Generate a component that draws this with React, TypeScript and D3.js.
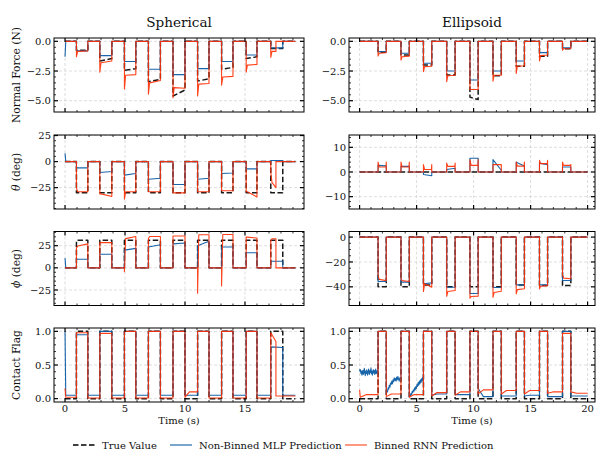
import React from 'react';
import * as d3 from 'd3';

const W = 599;
const H = 454;

// ---------------- Spherical ----------------
const sphStart = [0.95, 2.9, 4.95, 6.95, 9.0, 11.05, 13.05, 15.1, 17.15];
const sphEnd = [1.9, 3.9, 5.9, 7.95, 10.0, 12.0, 14.0, 16.0, 18.15];
const sphRnnEnd = [1.9, 3.9, 5.9, 7.95, 10.0, 12.0, 14.0, 16.0, 17.58];
const sphTEnd = 19.2;

const sphForceTrue = [-0.75, -1.65, -2.45, -3.4, -4.6, -3.35, -2.35, -1.45, -0.6];
const sphForceTrueEnd = [-0.75, -1.45, -2.3, -3.2, -4.1, -3.15, -2.2, -1.3, -0.6];
const sphForceMlp = [-0.8, -1.2, -1.7, -2.35, -2.8, -2.3, -1.7, -1.15, -0.55];
const sphForceRnnSpike = [-1.3, -2.6, -4.0, -4.45, -4.75, -4.6, -3.7, -2.6, -1.35];
const sphForceRnn = [-0.85, -1.8, -2.85, -3.5, -3.9, -3.6, -3.0, -2.0, -0.85];
const sphForceRnnEnd = [-0.8, -1.65, -2.8, -3.3, -3.95, -3.55, -2.95, -1.95, -0.85];

const sphThetaTrue = [-30, -30, -30, -30, -30, -30, -30, -30, -30];
const sphThetaMlp = [-6, -10.5, -13, -17, -22, -17, -11.5, -7, 1];
const sphThetaMlpEnd = [-6, -9.5, -11.5, -16, -22, -16, -11, -7, 1];
const sphThetaRnnSpike = [-25, -31, -36, -29, -30, -29, -28, -29, -10];
const sphThetaRnn = [-29, -31, -29, -29, -30, -29, -28, -29, -20];
const sphThetaRnnEnd = [-29, -33.5, -29, -29, -30, -29, -28, -34, -25];

const sphPhiTrue = [31, 31, 31, 31, 31, 31, 31, 31, 31];
const sphPhiMlp = [9.7, 15.3, 20, 23.5, 27, 25, 23.5, 17, 7.5];
const sphPhiMlpEnd = [9.7, 15.3, 22, 26, 28, 30, 23.5, 17, 7.5];
const sphPhiRnnSpike = [22, 28.4, -4.5, 33, 36, -28.7, -20.5, 34.7, 30];
const sphPhiRnn = [24.6, 28.4, 33, 35.4, 36, 37.3, 37.7, 34.7, 32.8];
const sphPhiRnnEnd = [27, 28.4, 35.4, 35.4, 36, 37.3, 37.7, 33.6, 32.8];

const sphFlagTrue = [1, 1, 1, 1, 1, 1, 1, 1, 1];
const sphFlagMlp = [0.95, 1, 1, 1, 1, 1, 1, 1, 0.77];
const sphFlagMlpEnd = [0.95, 1, 1, 1, 1, 1, 1, 1, 0.76];
const sphFlagRnn = [0.98, 0.97, 1, 1, 1, 1, 1, 1, 0.98];
const sphFlagRnnEnd = [0.98, 0.97, 1, 1, 1, 1, 1, 1, 0.85];
const sphFlagRnnGapStart = [0.02, 0.01, 0.01, 0.01, 0.01, 0.02, 0.01, 0.01, 0.01, 0.04];
const sphFlagRnnGapEnd = [0.02, 0.01, 0.01, 0.01, 0.01, 0.1, 0.01, 0.01, 0.01, 0.04];

// initial transients at t = 0 (MLP) — force, theta, phi, flag
const sphMlpInit = [-1.3, 8, 11, 1.0];
const sphRnnFlagInit = 0.15;

// ---------------- Ellipsoid ----------------
const ellStart = [1.62, 3.63, 5.6, 7.64, 9.68, 11.7, 13.74, 15.78, 17.8];
const ellEnd = [2.34, 4.36, 6.33, 8.38, 10.4, 12.43, 14.46, 16.49, 18.53];
const ellTEnd = 20.0;

const ellForceTrue = [-0.93, -1.15, -2.0, -2.84, -4.7, -2.9, -2.1, -1.25, -0.62];
const ellForceTrueEnd = [-0.93, -1.15, -2.0, -2.84, -4.9, -2.9, -2.1, -1.25, -0.62];
const ellForceMlp = [-0.87, -1.0, -1.85, -2.5, -3.26, -2.5, -1.65, -0.95, -0.55];
const ellForceRnnSpike = [-1.24, -1.57, -2.55, -3.4, -4.05, -3.35, -2.7, -1.65, -0.75];
const ellForceRnn = [-1.0, -1.3, -2.13, -2.9, -4.05, -2.85, -2.1, -1.2, -0.62];
const ellForceRnnEnd = [-0.95, -1.25, -2.1, -2.85, -4.05, -2.85, -2.05, -1.15, -0.6];

const ellThetaTrue = [0, 0, 0, 0, 0, 0, 0, 0, 0];
const ellThetaMlp = [2.7, 2.3, -1, 1, 5.6, 5, 4, 3.6, 2];
const ellThetaMlpEnd = [2.5, 2.3, -1.5, 1.5, 5.6, 0.7, 2.4, 3, 2];
const ellThetaRnnSpike = [4, 4, 3, 3.6, 5, 3, 4, 4.7, 4];
const ellThetaRnn = [2, 2, 1, 2.3, 2.7, 3, 2.4, 3.4, 2.7];
const ellThetaRnnEndSpike = [4, 4, 3, 3.6, 5, 3, 4, 4.7, 3];

const ellPhiTrue = [-40, -40, -38.5, -40, -40, -40, -38.5, -39, -39];
const ellPhiMlp = [-35.7, -36.2, -37.5, -40.3, -45.4, -40.5, -38.4, -38.4, -34.9];
const ellPhiMlpEnd = [-35.7, -36.2, -36.8, -40.3, -45.4, -40.5, -38.4, -38.4, -34.9];
const ellPhiRnnSpike = [-30.8, -33.5, -43.8, -47.6, -49.2, -48.4, -45.7, -41.6, -30.3];
const ellPhiRnn = [-34, -35, -37.6, -43.8, -47.8, -44.5, -42.2, -39.5, -33];
const ellPhiRnnEnd = [-35, -35.7, -40.3, -43, -47.5, -43.5, -41.5, -39, -33.5];

const ellFlagTrue = [1, 1, 1, 1, 1, 1, 1, 1, 1];
const ellFlagMlp = [1, 1, 1, 1, 1, 1, 1, 1, 1];
const ellFlagMlpGapStart = [0.4, 0.1, 0.03, 0.05, 0.06, 0.15, 0.04, 0.04, 0.03, 0.04];
const ellFlagMlpGapEnd = [0.4, 0.3, 0.3, 0.07, 0.06, 0.03, 0.04, 0.05, 0.03, 0.04];
const ellFlagMlpNoise0 = [0.44, 0.4, 0.43, 0.37, 0.41, 0.35, 0.39, 0.42, 0.36, 0.4, 0.45, 0.38, 0.34, 0.41, 0.37, 0.43, 0.39, 0.35, 0.4, 0.44, 0.38, 0.36, 0.42, 0.39, 0.46, 0.37, 0.41, 0.35, 0.4, 0.43, 0.38, 0.42, 0.36, 0.39, 0.44, 0.37, 0.41, 0.38, 0.43, 0.4];
const ellFlagMlpNoise1 = [0.08, 0.12, 0.1, 0.16, 0.14, 0.2, 0.17, 0.23, 0.21, 0.26, 0.22, 0.28, 0.25, 0.31, 0.27, 0.3, 0.26, 0.32, 0.28, 0.33, 0.29, 0.26, 0.31, 0.28, 0.3];
const ellFlagMlpNoise2 = [0.03, 0.06, 0.04, 0.08, 0.06, 0.11, 0.09, 0.13, 0.11, 0.16, 0.13, 0.18, 0.15, 0.21, 0.18, 0.24, 0.2, 0.26, 0.22, 0.28, 0.24, 0.3, 0.26, 0.32, 0.27];
const ellFlagRnn = [1, 1, 1, 1, 1, 1, 1, 1, 0.97];
const ellFlagRnnGapStart = [0.02, 0.03, 0.02, 0.04, 0.05, 0.07, 0.07, 0.07, 0.08, 0.1];
const ellFlagRnnGapEnd = [0.06, 0.07, 0.06, 0.09, 0.1, 0.13, 0.12, 0.12, 0.1, 0.08];
const ellRnnFlagInit = 0.13;

// ---------------- Ticks ----------------
const xTicksLeft = [0, 5, 10, 15];
const xTicksRight = [0, 5, 10, 15, 20];
const forceTicks = [-5, -2.5, 0];
const thetaTicksLeft = [-25, 0, 25];
const thetaTicksRight = [-10, 0, 10];
const phiTicksLeft = [-25, 0, 25];
const phiTicksRight = [-40, -20, 0];
const flagTicks = [0, 0.5, 1];

const BLUE = '#0C5DA5';
const RED = '#FF2C00';
const FONT = 'DejaVu Serif';
const TXT = '#111';

type Pt = [number, number];
interface Spec {
  a: number[];
  b?: number[];
  spike?: number[];
  endSpike?: number[];
  ends?: number[];
  gapStart?: number[];
  gapEnd?: number[];
  noise?: Record<number, number[]>;
  init?: number;
}

function build(starts: number[], endsT: number[], tEnd: number, s: Spec): Pt[] {
  const n = starts.length;
  const b = s.b ?? s.a;
  const ends = s.ends ?? endsT;
  const gs = (i: number) => (s.gapStart ? s.gapStart[i] : 0);
  const ge = (i: number) => (s.gapEnd ? s.gapEnd[i] : gs(i));
  const pts: Pt[] = [];
  for (let i = 0; i <= n; i++) {
    let tA = i === 0 ? 0 : ends[i - 1];
    const tB = i === n ? tEnd : starts[i];
    if (i === 0 && s.init != null) {
      pts.push([0, s.init]);
      tA = 0.06;
    }
    const nz = s.noise ? s.noise[i] : undefined;
    if (nz) {
      nz.forEach((v, k) => pts.push([tA + ((tB - tA) * k) / (nz.length - 1), v]));
    } else {
      pts.push([tA, gs(i)]);
      pts.push([tA + 0.35 * (tB - tA), ge(i)]);
      pts.push([tB, ge(i)]);
    }
    if (i < n) {
      if (s.spike) {
        pts.push([starts[i], s.spike[i]]);
        pts.push([starts[i] + 0.1, s.a[i]]);
      } else pts.push([starts[i], s.a[i]]);
      if (s.endSpike) {
        pts.push([ends[i] - 0.03, b[i]]);
        pts.push([ends[i], s.endSpike[i]]);
      } else pts.push([ends[i], b[i]]);
    }
  }
  return pts;
}

interface PanelDef {
  yDomain: [number, number];
  yMajor: number[];
  yMinorStep: number;
  yFmt: (v: number) => string;
  series: Spec[]; // true, mlp, rnn
}

const fmtMinus = (s: string) => s.replace('-', '\u2212');
const fmt1 = (v: number) => fmtMinus(v.toFixed(1));
const fmt0 = (v: number) => fmtMinus(String(v));

const rowTops = [38, 135, 231.5, 328];
const rowH = 74;
const cols = [
  { x0: 54, x1: 304, dom: [-0.92, 19.92] as [number, number], xMajor: xTicksLeft, starts: sphStart, ends: sphEnd, tEnd: sphTEnd, title: 'Spherical' },
  { x0: 349, x1: 595, dom: [-0.93, 20.65] as [number, number], xMajor: xTicksRight, starts: ellStart, ends: ellEnd, tEnd: ellTEnd, title: 'Ellipsoid' },
];

const panels: PanelDef[][] = [
  [
    {
      yDomain: [-5.95, 0.28], yMajor: forceTicks, yMinorStep: 0.5, yFmt: fmt1,
      series: [
        { a: sphForceTrue, b: sphForceTrueEnd },
        { a: sphForceMlp, init: sphMlpInit[0] },
        { a: sphForceRnn, b: sphForceRnnEnd, spike: sphForceRnnSpike, ends: sphRnnEnd },
      ],
    },
    {
      yDomain: [-45.5, 25.5], yMajor: thetaTicksLeft, yMinorStep: 5, yFmt: fmt0,
      series: [
        { a: sphThetaTrue },
        { a: sphThetaMlp, b: sphThetaMlpEnd, init: sphMlpInit[1] },
        { a: sphThetaRnn, b: sphThetaRnnEnd, spike: sphThetaRnnSpike, ends: sphRnnEnd },
      ],
    },
    {
      yDomain: [-42.5, 41], yMajor: phiTicksLeft, yMinorStep: 5, yFmt: fmt0,
      series: [
        { a: sphPhiTrue },
        { a: sphPhiMlp, b: sphPhiMlpEnd, init: sphMlpInit[2] },
        { a: sphPhiRnn, b: sphPhiRnnEnd, spike: sphPhiRnnSpike, ends: sphRnnEnd },
      ],
    },
    {
      yDomain: [-0.05, 1.05], yMajor: flagTicks, yMinorStep: 0.1, yFmt: fmt1,
      series: [
        { a: sphFlagTrue },
        { a: sphFlagMlp, b: sphFlagMlpEnd, gapStart: Array(10).fill(0.05), init: sphMlpInit[3] },
        { a: sphFlagRnn, b: sphFlagRnnEnd, gapStart: sphFlagRnnGapStart, gapEnd: sphFlagRnnGapEnd, ends: sphRnnEnd, init: sphRnnFlagInit },
      ],
    },
  ],
  [
    {
      yDomain: [-5.95, 0.28], yMajor: forceTicks, yMinorStep: 0.5, yFmt: fmt1,
      series: [
        { a: ellForceTrue, b: ellForceTrueEnd },
        { a: ellForceMlp },
        { a: ellForceRnn, b: ellForceRnnEnd, spike: ellForceRnnSpike },
      ],
    },
    {
      yDomain: [-15, 15], yMajor: thetaTicksRight, yMinorStep: 2, yFmt: fmt0,
      series: [
        { a: ellThetaTrue },
        { a: ellThetaMlp, b: ellThetaMlpEnd },
        { a: ellThetaRnn, spike: ellThetaRnnSpike, endSpike: ellThetaRnnEndSpike },
      ],
    },
    {
      yDomain: [-55, 4.5], yMajor: phiTicksRight, yMinorStep: 5, yFmt: fmt0,
      series: [
        { a: ellPhiTrue },
        { a: ellPhiMlp, b: ellPhiMlpEnd },
        { a: ellPhiRnn, b: ellPhiRnnEnd, spike: ellPhiRnnSpike },
      ],
    },
    {
      yDomain: [-0.05, 1.05], yMajor: flagTicks, yMinorStep: 0.1, yFmt: fmt1,
      series: [
        { a: ellFlagTrue },
        { a: ellFlagMlp, gapStart: ellFlagMlpGapStart, gapEnd: ellFlagMlpGapEnd, noise: { 0: ellFlagMlpNoise0, 1: ellFlagMlpNoise1, 2: ellFlagMlpNoise2 } },
        { a: ellFlagRnn, gapStart: ellFlagRnnGapStart, gapEnd: ellFlagRnnGapEnd, init: ellRnnFlagInit },
      ],
    },
  ],
];

const yLabels = ['Normal Force (N)', 'theta', 'phi', 'Contact Flag'];

function minors(lo: number, hi: number, step: number, majors: number[]): number[] {
  const out: number[] = [];
  const k0 = Math.ceil(lo / step - 1e-9);
  const k1 = Math.floor(hi / step + 1e-9);
  for (let k = k0; k <= k1; k++) {
    const v = +(k * step).toFixed(6);
    if (!majors.some((m) => Math.abs(m - v) < 1e-6)) out.push(v);
  }
  return out;
}

const styles = [
  { color: '#000', width: 1.5, dash: '5.5,2.5', opacity: 0.9 },
  { color: BLUE, width: 1.1, dash: undefined, opacity: 0.95 },
  { color: RED, width: 1.1, dash: undefined, opacity: 0.9 },
];

function Panel({ ci, ri }: { ci: number; ri: number }) {
  const c = cols[ci];
  const p = panels[ci][ri];
  const top = rowTops[ri];
  const bot = top + rowH;
  const x = d3.scaleLinear().domain(c.dom).range([c.x0, c.x1]);
  const y = d3.scaleLinear().domain(p.yDomain).range([bot, top]);
  const line = d3.line<Pt>().x((d) => x(d[0])).y((d) => y(d[1]));
  const xMin = minors(c.dom[0], c.dom[1], 1, c.xMajor);
  const yMin = minors(p.yDomain[0], p.yDomain[1], p.yMinorStep, p.yMajor);
  const clipId = `clip-${ci}-${ri}`;
  const MAJ = 4;
  const MIN = 2;
  return (
    <g>
      <defs>
        <clipPath id={clipId}>
          <rect x={c.x0} y={top} width={c.x1 - c.x0} height={rowH} />
        </clipPath>
      </defs>
      {c.xMajor.map((t) => (
        <line key={'gx' + t} x1={x(t)} x2={x(t)} y1={top} y2={bot} stroke="#c8c8c8" strokeWidth={0.6} strokeDasharray="3,2" />
      ))}
      {p.yMajor.map((t) => (
        <line key={'gy' + t} x1={c.x0} x2={c.x1} y1={y(t)} y2={y(t)} stroke="#c8c8c8" strokeWidth={0.6} strokeDasharray="3,2" />
      ))}
      <g clipPath={`url(#${clipId})`}>
        {p.series.map((s, k) => (
          <path
            key={k}
            d={line(build(c.starts, c.ends, c.tEnd, s)) || ''}
            fill="none"
            stroke={styles[k].color}
            strokeWidth={styles[k].width}
            strokeDasharray={styles[k].dash}
            strokeOpacity={styles[k].opacity}
            strokeLinejoin="round"
          />
        ))}
      </g>
      <rect x={c.x0} y={top} width={c.x1 - c.x0} height={rowH} fill="none" stroke="#000" strokeWidth={1} />
      {c.xMajor.map((t) => (
        <g key={'tx' + t}>
          <line x1={x(t)} x2={x(t)} y1={bot} y2={bot - MAJ} stroke="#000" strokeWidth={1.2} />
          <line x1={x(t)} x2={x(t)} y1={top} y2={top + MAJ} stroke="#000" strokeWidth={1.2} />
        </g>
      ))}
      {xMin.map((t) => (
        <g key={'mx' + t}>
          <line x1={x(t)} x2={x(t)} y1={bot} y2={bot - MIN} stroke="#000" strokeWidth={0.8} />
          <line x1={x(t)} x2={x(t)} y1={top} y2={top + MIN} stroke="#000" strokeWidth={0.8} />
        </g>
      ))}
      {p.yMajor.map((t) => (
        <g key={'ty' + t}>
          <line x1={c.x0} x2={c.x0 + MAJ} y1={y(t)} y2={y(t)} stroke="#000" strokeWidth={1.2} />
          <line x1={c.x1} x2={c.x1 - MAJ} y1={y(t)} y2={y(t)} stroke="#000" strokeWidth={1.2} />
          <text x={c.x0 - 3} y={y(t)} dy="0.36em" textAnchor="end" fontFamily={FONT} fontSize={10} fill={TXT}>
            {p.yFmt(t)}
          </text>
        </g>
      ))}
      {yMin.map((t) => (
        <g key={'my' + t}>
          <line x1={c.x0} x2={c.x0 + MIN} y1={y(t)} y2={y(t)} stroke="#000" strokeWidth={0.8} />
          <line x1={c.x1} x2={c.x1 - MIN} y1={y(t)} y2={y(t)} stroke="#000" strokeWidth={0.8} />
        </g>
      ))}
      {ri === 3 &&
        c.xMajor.map((t) => (
          <text key={'lx' + t} x={x(t)} y={412} textAnchor="middle" fontFamily={FONT} fontSize={10} fill={TXT}>
            {t}
          </text>
        ))}
      {ri === 3 && (
        <text x={(c.x0 + c.x1) / 2} y={424} textAnchor="middle" fontFamily={FONT} fontSize={10} fill={TXT}>
          Time (s)
        </text>
      )}
      {ri === 0 && (
        <text x={(c.x0 + c.x1) / 2} y={26.5} textAnchor="middle" fontFamily={FONT} fontSize={13.6} fill={TXT}>
          {c.title}
        </text>
      )}
    </g>
  );
}

function YLabel({ ri }: { ri: number }) {
  const cy = rowTops[ri] + rowH / 2;
  const lbl = yLabels[ri];
  let content: React.ReactNode = lbl;
  if (lbl === 'theta') content = (<><tspan fontStyle="italic">θ</tspan> (deg)</>);
  if (lbl === 'phi') content = (<><tspan fontStyle="italic">ϕ</tspan> (deg)</>);
  return (
    <text transform={`translate(16.5,${cy}) rotate(-90)`} textAnchor="middle" dy="0.35em" fontFamily={FONT} fontSize={10.7} fill={TXT}>
      {content}
    </text>
  );
}

export default function App() {
  const ly = 445;
  return (
    <svg width={W} height={H} style={{ position: 'absolute', left: 0, top: 0, background: '#fff' }}>
      <rect width={W} height={H} fill="#fff" />
      {[0, 1].map((ci) => [0, 1, 2, 3].map((ri) => <Panel key={ci + '-' + ri} ci={ci} ri={ri} />))}
      {[0, 1, 2, 3].map((ri) => <YLabel key={ri} ri={ri} />)}
      <g>
        <line x1={73} x2={97} y1={ly} y2={ly} stroke="#000" strokeWidth={1.5} strokeDasharray="5.5,2.5" />
        <text x={102} y={ly} dy="0.35em" fontFamily={FONT} fontSize={10} fill={TXT}>True Value</text>
        <line x1={170} x2={192} y1={ly} y2={ly} stroke={BLUE} strokeWidth={1.1} />
        <text x={199} y={ly} dy="0.35em" fontFamily={FONT} fontSize={10} fill={TXT}>Non-Binned MLP Prediction</text>
        <line x1={345} x2={367} y1={ly} y2={ly} stroke={RED} strokeWidth={1.1} strokeOpacity={0.9} />
        <text x={374} y={ly} dy="0.35em" fontFamily={FONT} fontSize={10} fill={TXT}>Binned RNN Prediction</text>
      </g>
    </svg>
  );
}
